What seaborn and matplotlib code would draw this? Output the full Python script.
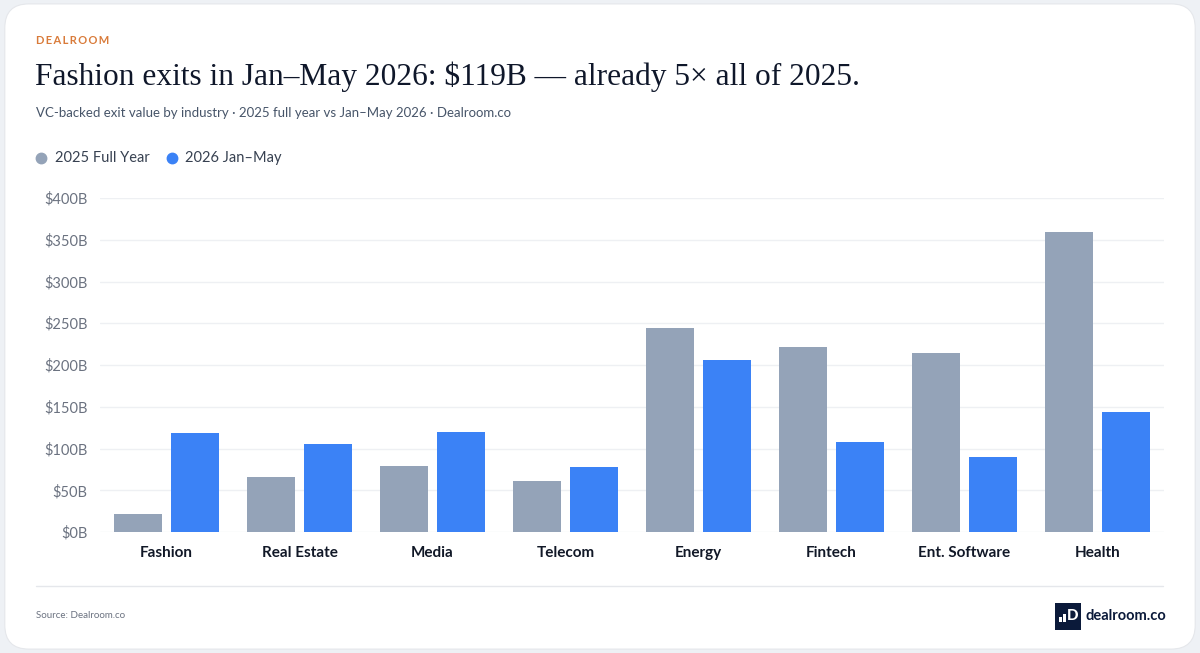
import matplotlib
matplotlib.use('Agg')
import matplotlib.pyplot as plt
from matplotlib.patches import FancyBboxPatch, Rectangle
from matplotlib.lines import Line2D
import seaborn as sns
import pandas as pd

industries = ['Fashion', 'Real Estate', 'Media', 'Telecom', 'Energy', 'Fintech', 'Ent. Software', 'Health']
full_2025 = [22, 66, 79, 61, 244, 221, 214, 359]
jan_may_2026 = [119, 105, 120, 78, 206, 108, 90, 144]
series_names = ['2025 Full Year', '2026 Jan\u2013May']
y_ticks = [0, 50, 100, 150, 200, 250, 300, 350, 400]

GRAY = '#94a3b8'
BLUE = '#3b82f6'
NAVY = '#0b1a3a'
SANS = ['Lato', 'DejaVu Sans']
SERIF = ['Liberation Serif', 'DejaVu Serif']

df = pd.DataFrame({
    'industry': industries * 2,
    'value': full_2025 + jan_may_2026,
    'series': [series_names[0]] * len(industries) + [series_names[1]] * len(industries),
})

sns.set_theme(style='white')
plt.rcParams['font.family'] = SANS

W, H = 1200, 653
fig = plt.figure(figsize=(W / 100, H / 100), dpi=100)
fig.patch.set_facecolor('#eef1f5')
# white card behind everything
card = FancyBboxPatch((0.004, 0.006), 0.992, 0.988, boxstyle='round,pad=0,rounding_size=0.02',
                      transform=fig.transFigure, facecolor='white', edgecolor='#e5e7eb',
                      linewidth=0.8, mutation_aspect=W / H, zorder=-10)
fig.patches.append(card)

def fx(px):
    return px / W

def fy(py):
    return 1 - py / H

ax = fig.add_axes([fx(100), fy(532), fx(1164) - fx(100), fy(198) - fy(532)])
ax.set_facecolor('none')
sns.barplot(data=df, x='industry', y='value', hue='series', order=industries,
            hue_order=series_names, palette=[GRAY, BLUE], width=0.85, saturation=1,
            legend=False, ax=ax)

# gap between paired bars
for p in ax.patches:
    w = p.get_width()
    p.set_x(p.get_x() + w * 0.08)
    p.set_width(w * 0.84)
    p.set_edgecolor('none')

ax.set_ylim(0, 400)
ax.set_xlim(-0.5, len(industries) - 0.5)
ax.set_yticks(y_ticks)
ax.set_yticklabels([f'${v}B' for v in y_ticks], fontsize=10.5, color='#6b7280')
ax.yaxis.grid(True, color='#eef0f3', linewidth=1)
ax.set_axisbelow(True)
for s in ax.spines.values():
    s.set_visible(False)
ax.tick_params(axis='y', length=0, pad=9)
ax.tick_params(axis='x', length=0, pad=10)
ax.set_xticks(range(len(industries)))
ax.set_xticklabels(industries, fontsize=11, fontweight='bold', color='#111827')
ax.set_xlabel('')
ax.set_ylabel('')

# header
fig.text(fx(36), fy(40), '\u2009'.join('DEALROOM'), fontsize=8, fontweight='bold',
         color='#d97b3a', va='center', ha='left', family=SANS)
fig.text(fx(35), fy(77), 'Fashion exits in Jan\u2013May 2026: $119B \u2014 already 5\u00d7 all of 2025.',
         fontsize=22.6, color='#0f172a', va='center', ha='left', family=SERIF)
fig.text(fx(36), fy(113), 'VC-backed exit value by industry \u00b7 2025 full year vs Jan\u2013May 2026 \u00b7 Dealroom.co',
         fontsize=9.5, color='#475569', va='center', ha='left')

# legend
fig.lines.append(Line2D([fx(41)], [fy(158)], marker='o', markersize=7.5, color=GRAY,
                        transform=fig.transFigure, linestyle='none'))
fig.text(fx(55), fy(158), series_names[0], fontsize=10.5, color='#374151', va='center')
fig.lines.append(Line2D([fx(172)], [fy(158)], marker='o', markersize=7.5, color=BLUE,
                        transform=fig.transFigure, linestyle='none'))
fig.text(fx(185), fy(158), series_names[1], fontsize=10.5, color='#374151', va='center')

# footer
fig.lines.append(Line2D([fx(36), fx(1163)], [fy(586), fy(586)], color='#e5e7eb', linewidth=1,
                        transform=fig.transFigure))
fig.text(fx(36), fy(616), 'Source: Dealroom.co', fontsize=7, color='#6b7280', va='center')
fig.patches.append(Rectangle((fx(1055), fy(630)), fx(26), fy(603) - fy(630), transform=fig.transFigure,
                             facecolor=NAVY, edgecolor='none'))
# logo mark: two small bars + D
for x0, h in [(1059, 5), (1063, 8)]:
    fig.patches.append(Rectangle((fx(x0), fy(622)), fx(3), fy(622 - h) - fy(622),
                                 transform=fig.transFigure, facecolor='white', edgecolor='none'))
fig.text(fx(1073), fy(616), 'D', fontsize=11, fontweight='black', color='white', va='center', ha='center')
fig.text(fx(1086), fy(616), 'dealroom.co', fontsize=10.5, fontweight='bold', color=NAVY, va='center')

fig.savefig('out.png', dpi=100, facecolor=fig.get_facecolor())
